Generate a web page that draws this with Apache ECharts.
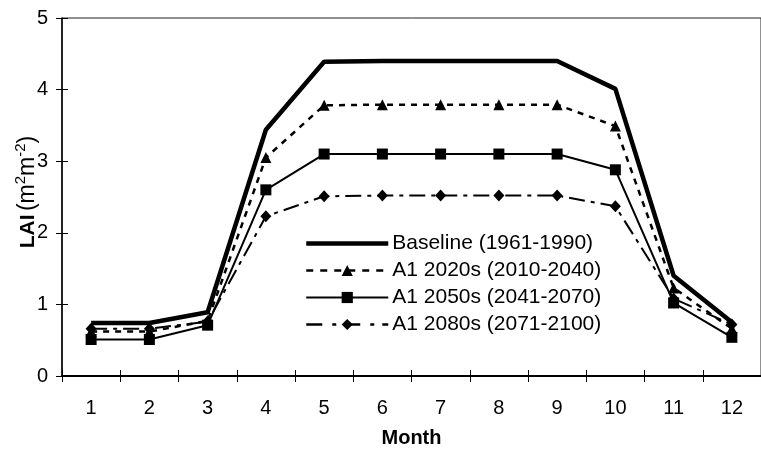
<!DOCTYPE html>
<html><head><meta charset="utf-8">
<script src="https://cdn.jsdelivr.net/npm/echarts@6/dist/echarts.min.js"></script>
<style>html,body{margin:0;padding:0;background:#fff}#c{width:761px;height:453px}</style>
</head><body><div id="c"></div>
<script>
const months = ['1','2','3','4','5','6','7','8','9','10','11','12'];
const yTicks = [0,1,2,3,4,5];
const seriesNames = ['Baseline (1961-1990)','A1 2020s (2010-2040)','A1 2050s (2041-2070)','A1 2080s (2071-2100)'];
const baseline = [0.74,0.74,0.89,3.44,4.39,4.40,4.40,4.40,4.40,4.01,1.40,0.75];
const a1_2020s = [0.62,0.62,0.77,3.05,3.78,3.79,3.79,3.79,3.79,3.49,1.23,0.66];
const a1_2050s = [0.51,0.51,0.71,2.60,3.10,3.10,3.10,3.10,3.10,2.88,1.02,0.54];
const a1_2080s = [0.66,0.66,0.76,2.23,2.51,2.52,2.52,2.52,2.52,2.37,1.08,0.72];

const FONT = 'Liberation Sans, Arial, sans-serif';
const chart = echarts.init(document.getElementById('c'), null, {renderer:'canvas'});
const catAxisBase = {
  type:'category', data: months, boundaryGap:true, position:'bottom'
};
const lineStyles = [
  {color:'#000', width:4.5},
  {color:'#000', width:2.5, type:[6,6]},
  {color:'#000', width:2},
  {color:'#000', width:2, type:[16,6,4,6]}
];
const legendLineStyles = [
  {color:'#000', width:4.5},
  {color:'#000', width:2.5, type:[7,7]},
  {color:'#000', width:2},
  {color:'#000', width:2.5, type:[16,10,4,8]}
];
chart.setOption({
  animation:false,
  backgroundColor:'#fff',
  grid:{left:62, top:18, right:-13, bottom:76, show:true, borderColor:'#222', borderWidth:1},
  xAxis:[
    Object.assign({}, catAxisBase, {
      name:'Month', nameLocation:'middle', nameGap:52,
      nameTextStyle:{fontFamily:FONT, fontSize:20, fontWeight:'bold', color:'#000'},
      axisLine:{lineStyle:{color:'#000', width:2}},
      axisTick:{show:true, length:6, lineStyle:{color:'#000', width:1}},
      axisLabel:{fontFamily:FONT, fontSize:20, color:'#000', margin:22},
      splitLine:{show:false}
    }),
    Object.assign({}, catAxisBase, {
      axisLine:{show:false},
      axisTick:{show:true, inside:true, length:6, lineStyle:{color:'#000', width:1}},
      axisLabel:{show:false}, splitLine:{show:false}
    })
  ],
  yAxis:[
    {type:'value', min:yTicks[0], max:yTicks[yTicks.length-1], interval:1,
     axisLine:{show:true, lineStyle:{color:'#000', width:1.5}},
     axisTick:{show:true, length:6, lineStyle:{color:'#000', width:1}},
     axisLabel:{fontFamily:FONT, fontSize:20, color:'#000', margin:14},
     splitLine:{show:false}},
    {type:'value', min:yTicks[0], max:yTicks[yTicks.length-1], interval:1, position:'left',
     axisLine:{show:false},
     axisTick:{show:true, inside:true, length:6, lineStyle:{color:'#000', width:1}},
     axisLabel:{show:false}, splitLine:{show:false}}
  ],
  legend:{
    orient:'vertical', left:299, top:228, itemWidth:82, itemHeight:14, itemGap:6,
    textStyle:{fontFamily:FONT, fontSize:21, color:'#000', padding:[0,0,0,-1]},
    data: seriesNames.map((n,i)=>({
      name:n,
      lineStyle:legendLineStyles[i],
      itemStyle: i===0 ? {opacity:0} : {color:'#000'}
    }))
  },
  graphic:[{
    type:'text', x:26, y:192, rotation:Math.PI/2,
    style:{
      text:'{b|LAI} {n|(m}{s|2}{n|m}{s|-2}{n|)}',
      align:'center', verticalAlign:'middle', fill:'#000',
      rich:{
        b:{fontFamily:FONT, fontSize:21, fontWeight:'bold', lineHeight:26, verticalAlign:'bottom'},
        n:{fontFamily:FONT, fontSize:23, lineHeight:26, verticalAlign:'bottom'},
        s:{fontFamily:FONT, fontSize:15, lineHeight:26, verticalAlign:'top'}
      }
    }
  }],
  series:[
    {name:seriesNames[0], type:'line', data:baseline, symbol:'none',
     lineStyle:lineStyles[0], itemStyle:{color:'#000'}, z:5},
    {name:seriesNames[1], type:'line', data:a1_2020s, symbol:'triangle', symbolSize:11,
     lineStyle:lineStyles[1], itemStyle:{color:'#000'}},
    {name:seriesNames[2], type:'line', data:a1_2050s, symbol:'rect', symbolSize:11,
     lineStyle:lineStyles[2], itemStyle:{color:'#000'}},
    {name:seriesNames[3], type:'line', data:a1_2080s, symbol:'diamond', symbolSize:[11,12],
     lineStyle:lineStyles[3], itemStyle:{color:'#000'}}
  ]
});
</script></body></html>
